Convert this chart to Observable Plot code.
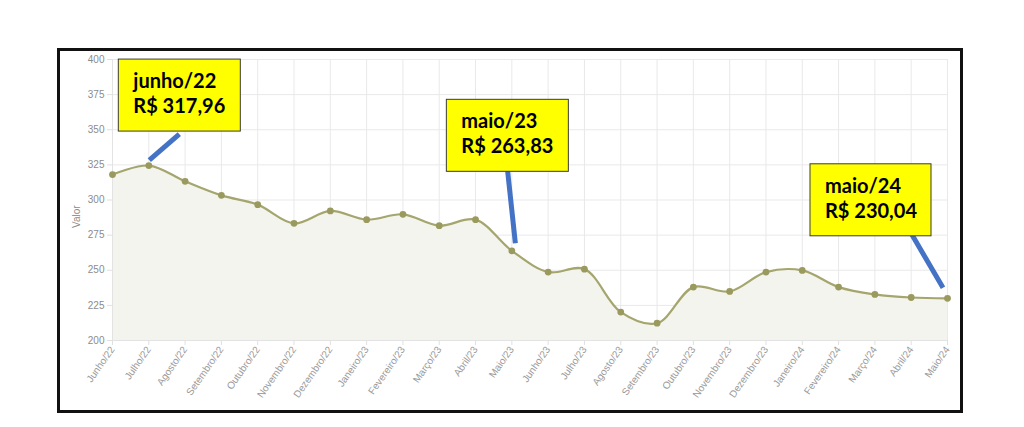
<!DOCTYPE html>
<html>
<head>
<meta charset="utf-8">
<script src="https://cdn.jsdelivr.net/npm/d3@7"></script>
<script src="https://cdn.jsdelivr.net/npm/@observablehq/plot@0.6"></script>
<style>
  body { margin: 0; background: #fff; }
  #page { position: relative; width: 1024px; height: 427px; overflow: hidden; background: #fff; }
  #frame { position: absolute; left: 57px; top: 48px; width: 900px; height: 359px; border: 3px solid #111; }
  #chart { position: absolute; left: 60px; top: 50px; }
  #overlay { position: absolute; left: 0; top: 0; }
</style>
</head>
<body>
<div id="page">
  <div id="frame"></div>
  <div id="chart"></div>
  <svg id="overlay" width="1024" height="427"></svg>
</div>
<script>
// ---- data ----
const months = [
  "Junho/22", "Julho/22", "Agosto/22", "Setembro/22", "Outubro/22", "Novembro/22",
  "Dezembro/22", "Janeiro/23", "Fevereiro/23", "Março/23", "Abril/23", "Maio/23",
  "Junho/23", "Julho/23", "Agosto/23", "Setembro/23", "Outubro/23", "Novembro/23",
  "Dezembro/23", "Janeiro/24", "Fevereiro/24", "Março/24", "Abril/24", "Maio/24"
];
const values = [
  318.1, 324.5, 313.3, 303.3, 296.7, 283.4,
  292.2, 286.0, 289.8, 281.7, 286.0, 263.83,
  248.7, 250.8, 220.2, 212.3, 238.0, 234.9,
  248.7, 249.9, 238.0, 232.8, 230.6, 230.04
];
const yTicks = [200, 225, 250, 275, 300, 325, 350, 375, 400];
const yLabel = "Valor";

// callouts: which month they point at and their text
const calloutMonths = ["Julho/22", "Maio/23", "Maio/24"];
const calloutTitles = ["junho/22", "maio/23", "maio/24"];
const calloutPrices = ["R$ 317,96", "R$ 263,83", "R$ 230,04"];

// ---- chart ----
const data = months.map((m, i) => ({ month: m, value: values[i] }));
const base = yTicks[0];

const chartLeft = 60, chartTop = 50;
const plot = Plot.plot({
  width: 900,
  height: 350,
  marginLeft: 52,
  marginRight: 13,
  marginTop: 9,
  marginBottom: 60,
  style: { fontFamily: "'Liberation Sans', Arial, sans-serif", background: "transparent" },
  x: { type: "point", domain: months, padding: 0, round: false },
  y: { domain: [yTicks[0], yTicks[yTicks.length - 1]] },
  marks: [
    Plot.gridY(yTicks, { stroke: "#e9e9e9", strokeOpacity: 1 }),
    Plot.gridX(months, { stroke: "#e9e9e9", strokeOpacity: 1 }),
    Plot.areaY(data, { x: "month", y1: base, y2: "value", curve: "catmull-rom", fill: "#f4f4ef" }),
    Plot.axisY(yTicks, { tickSize: 5, stroke: "#e0e0e0", fill: "#8c8c8c", fontSize: 10, tickPadding: 3, label: null }),
    Plot.axisX(months, { tickSize: 5, stroke: "#e0e0e0", fill: "#9a9a9a", fontSize: 10, tickRotate: -55, tickPadding: 2, label: null }),
    Plot.ruleX([months[0]], { stroke: "#e3e3e3" }),
    Plot.ruleY([base], { stroke: "#e3e3e3" }),
    Plot.text([yLabel], { frameAnchor: "left", rotate: -90, dx: -36, dy: 28, fill: "#8c8c8c", fontSize: 10 }),
    Plot.line(data, { x: "month", y: "value", curve: "catmull-rom", stroke: "#a5a56e", strokeWidth: 2.2 }),
    Plot.dot(data, { x: "month", y: "value", r: 3.4, fill: "#9a9a5e", stroke: "none" })
  ]
});
document.getElementById("chart").appendChild(plot);

// ---- callouts (anchored to data points via the plot's scales) ----
const xs = plot.scale("x"), ys = plot.scale("y");
// pixel offsets of each callout relative to its data point
const calloutLayout = [
  { bx: -30, by: -106, w: 122, h: 72, l1: [1, -5], l2: [31, -31] },
  { bx: -65, by: -151, w: 122, h: 72, l1: [4, -7], l2: [-4, -82] },
  { bx: -137, by: -134, w: 121, h: 72, l1: [-4, -10], l2: [-35, -63] }
];
const ov = d3.select("#overlay");
calloutMonths.forEach((m, i) => {
  const v = values[months.indexOf(m)];
  const px = chartLeft + xs.apply(m);
  const py = chartTop + ys.apply(v);
  const L = calloutLayout[i];
  ov.append("line")
    .attr("x1", px + L.l1[0]).attr("y1", py + L.l1[1])
    .attr("x2", px + L.l2[0]).attr("y2", py + L.l2[1])
    .attr("stroke", "#4472c4").attr("stroke-width", 5);
  const bx = px + L.bx, by = py + L.by;
  ov.append("rect")
    .attr("x", bx).attr("y", by).attr("width", L.w).attr("height", L.h)
    .attr("fill", "#ffff00").attr("stroke", "#3a3a3a").attr("stroke-width", 1);
  ov.append("text").attr("x", bx + 15).attr("y", by + 29)
    .attr("font-family", "Lato, 'Open Sans', sans-serif").attr("font-weight", "bold")
    .attr("font-size", 20).attr("fill", "#000").text(calloutTitles[i]);
  ov.append("text").attr("x", bx + 15).attr("y", by + 54)
    .attr("font-family", "Lato, 'Open Sans', sans-serif").attr("font-weight", "bold")
    .attr("font-size", 20).attr("fill", "#000").text(calloutPrices[i]);
});
</script>
</body>
</html>
